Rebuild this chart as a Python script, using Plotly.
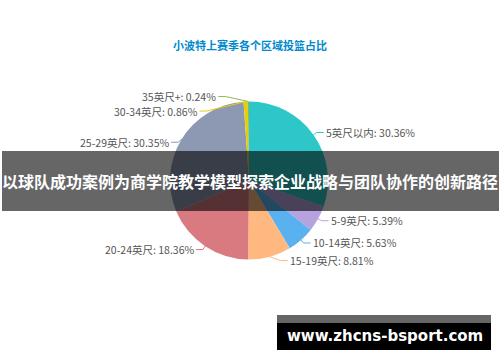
import math
import plotly.graph_objects as go

# ---- data ----
title_text = "小波特上赛季各个区域投篮占比"
zones = ["5英尺以内", "5-9英尺", "10-14英尺", "15-19英尺", "20-24英尺", "25-29英尺", "30-34英尺", "35英尺+"]
shares = [30.36, 5.39, 5.63, 8.81, 18.36, 30.35, 0.86, 0.24]
slice_colors = ["#2ec7c9", "#b6a2de", "#5ab1ef", "#ffb980", "#d87a80", "#8d98b3", "#e5cf0d", "#97b552"]
banner_text = "以球队成功案例为商学院教学模型探索企业战略与团队协作的创新路径"
watermark_text = "www.zhcns-bsport.com"

# ---- layout geometry (pixels) ----
W, H = 500, 362
CX, CY, R = 249, 180.5, 79
RL = 83       # label ring radius
GAP = 8       # horizontal gap from kink to text
label_nudge = {"15-19英尺": (10, 0), "25-29英尺": (0, 5), "30-34英尺": (-39, 13.5), "35英尺+": (-23, -1)}
CJK = "Noto Sans CJK SC"


def px(x):
    return x / W


def py(y):
    return 1 - y / H


fig = go.Figure()
fig.add_trace(go.Pie(
    labels=zones, values=shares, sort=False, direction="clockwise", rotation=0,
    marker=dict(colors=slice_colors, line=dict(width=0)),
    textinfo="none", hoverinfo="label+percent", showlegend=False,
    domain=dict(x=[px(CX - R), px(CX + R)], y=[py(CY + R), py(CY - R)]),
))

shapes = []
annotations = []
total = sum(shares)
cum = 0.0
for zone, val, col in zip(zones, shares, slice_colors):
    mid = (cum + val / 2) / total * 2 * math.pi
    cum += val
    s, c = math.sin(mid), math.cos(mid)
    ex, ey = CX + R * s, CY - R * c
    kx, ky = CX + RL * s, CY - RL * c
    dx, dy = label_nudge.get(zone, (0, 0))
    kx += dx
    ky += dy
    right = s >= 0
    tx = kx + GAP if right else kx - GAP
    lx = tx - 1 if right else tx + 1
    shapes.append(dict(
        type="path", xref="paper", yref="paper",
        path=f"M {px(ex)} {py(ey)} L {px(kx)} {py(ky)} L {px(lx)} {py(ky)}",
        line=dict(color=col, width=1), layer="above",
    ))
    annotations.append(dict(
        x=px(tx), y=py(ky), xref="paper", yref="paper", showarrow=False,
        xanchor="left" if right else "right", yanchor="middle",
        text=f"{zone}: {val:.2f}%", font=dict(family=CJK, size=10.5, color="#555555"),
        borderpad=0,
    ))

# banner
shapes.append(dict(type="rect", xref="paper", yref="paper",
                   x0=px(2), x1=px(499), y0=py(211), y1=py(151),
                   fillcolor="rgba(0,0,0,0.6)", line=dict(width=0), layer="above"))
# watermark
shapes.append(dict(type="rect", xref="paper", yref="paper",
                   x0=px(277), x1=px(491), y0=py(323), y1=py(315),
                   fillcolor="#666666", line=dict(width=0), layer="above"))
shapes.append(dict(type="rect", xref="paper", yref="paper",
                   x0=px(277), x1=px(491), y0=py(350), y1=py(323),
                   fillcolor="#000000", line=dict(width=0), layer="above"))

annotations.append(dict(x=px(250), y=py(45), xref="paper", yref="paper", showarrow=False,
                        xanchor="center", yanchor="middle", text=f"<b>{title_text}</b>",
                        font=dict(family=CJK, size=11, color="#008acd")))
annotations.append(dict(x=px(250), y=py(181), xref="paper", yref="paper", showarrow=False,
                        xanchor="center", yanchor="middle", text=f"<b>{banner_text}</b>",
                        font=dict(family=CJK, size=16, color="#ffffff")))
annotations.append(dict(x=px(385), y=py(336), xref="paper", yref="paper", showarrow=False,
                        xanchor="center", yanchor="middle", text=f"<b>{watermark_text}</b>",
                        font=dict(family="DejaVu Sans", size=15, color="#ffffff")))

fig.update_layout(
    width=W, height=H, margin=dict(l=0, r=0, t=0, b=0),
    paper_bgcolor="#ffffff", plot_bgcolor="#ffffff",
    shapes=shapes, annotations=annotations,
)
fig.write_html("out.html")
